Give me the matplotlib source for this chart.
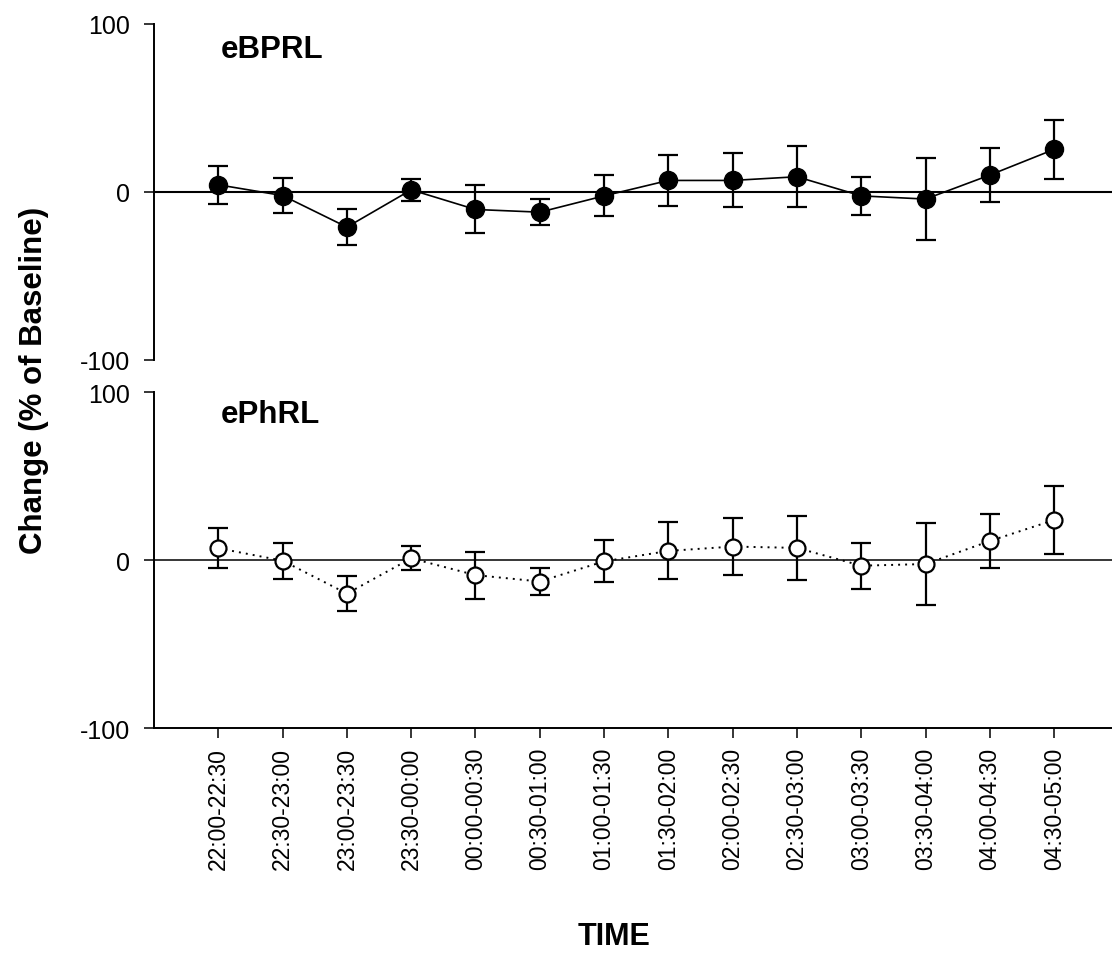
import numpy as np
import matplotlib
matplotlib.use('Agg')
import matplotlib.pyplot as plt

plt.rcParams['font.family'] = ['Liberation Sans', 'DejaVu Sans']

periods = ['22:00-22:30', '22:30-23:00', '23:00-23:30', '23:30-00:00',
           '00:00-00:30', '00:30-01:00', '01:00-01:30', '01:30-02:00',
           '02:00-02:30', '02:30-03:00', '03:00-03:30', '03:30-04:00',
           '04:00-04:30', '04:30-05:00']

# eBPRL (filled circles, solid line)
ebprl_mean = [4.2, -2.2, -21.0, 1.2, -10.5, -12.1, -2.4, 6.8, 6.8, 9.0, -2.4, -4.3, 10.0, 25.3]
ebprl_err = [11.2, 10.5, 10.6, 6.6, 14.3, 7.8, 12.2, 15.3, 16.1, 18.3, 11.5, 24.3, 16.2, 17.6]

# ePhRL (open circles, dotted line)
ephrl_mean = [7.2, -0.2, -19.8, 1.2, -8.8, -12.6, -0.6, 5.6, 8.2, 7.4, -3.2, -2.2, 11.5, 24.0]
ephrl_err = [11.8, 10.8, 10.2, 7.1, 14.0, 8.3, 12.5, 17.0, 16.9, 19.2, 13.7, 24.6, 16.0, 20.2]

x = np.arange(len(periods))

fig = plt.figure(figsize=(11.12, 9.54), dpi=100, facecolor='white')
ax1 = fig.add_axes([0.1385, 0.6219, 0.8615, 0.3519])
ax2 = fig.add_axes([0.1385, 0.2355, 0.8615, 0.3522])

for ax in (ax1, ax2):
    ax.set_xlim(-1, 13.9)
    ax.set_ylim(-100, 100)
    ax.set_yticks([-100, 0, 100])
    ax.set_yticklabels(['-100', '0', '100'])
    ax.spines['top'].set_visible(False)
    ax.spines['right'].set_visible(False)
    ax.spines['left'].set_linewidth(1.4)
    ax.spines['bottom'].set_linewidth(1.4)
    ax.tick_params(axis='y', direction='out', length=7.2, width=1.1,
                   labelsize=18, pad=10)

# top panel: no bottom axis
ax1.spines['bottom'].set_visible(False)
ax1.set_xticks([])
ax1.axhline(0, color='k', lw=1.5, zorder=1)
ax1.errorbar(x, ebprl_mean, yerr=ebprl_err, fmt='none', ecolor='k',
             elinewidth=1.6, capsize=7.4, capthick=1.6, zorder=2)
ax1.plot(x, ebprl_mean, '-', color='k', lw=1.2, marker='o', markersize=13,
         markerfacecolor='k', markeredgecolor='k', zorder=3)
ax1.text(0.0696, 0.9008, 'eBPRL', transform=ax1.transAxes, fontsize=22.5,
         fontweight='bold', va='baseline', ha='left')

# bottom panel
ax2.axhline(0, color='k', lw=1.1, zorder=1)
ax2.errorbar(x, ephrl_mean, yerr=ephrl_err, fmt='none', ecolor='k',
             elinewidth=1.6, capsize=7.4, capthick=1.6, zorder=2)
ax2.plot(x, ephrl_mean, color='k', lw=1.4, linestyle=(0, (1, 2.6)),
         marker='o', markersize=11.5, markerfacecolor='white',
         markeredgecolor='k', markeredgewidth=1.6, zorder=3)
ax2.text(0.0696, 0.9107, 'ePhRL', transform=ax2.transAxes, fontsize=22.5,
         fontweight='bold', va='baseline', ha='left')
ax2.set_xticks(x)
ax2.set_xticklabels(periods, rotation=90)
ax2.tick_params(axis='x', direction='out', length=7.2, width=1.1,
                labelsize=16.5, pad=6)

fig.text(0.0306, 0.6017, 'Change (% of Baseline)', rotation=90, fontsize=22.5,
         fontweight='bold', ha='center', va='center')
fig.text(0.552, 0.0173, 'TIME', fontsize=22, fontweight='bold',
         ha='center', va='center')

plt.savefig('out.png', dpi=100)
